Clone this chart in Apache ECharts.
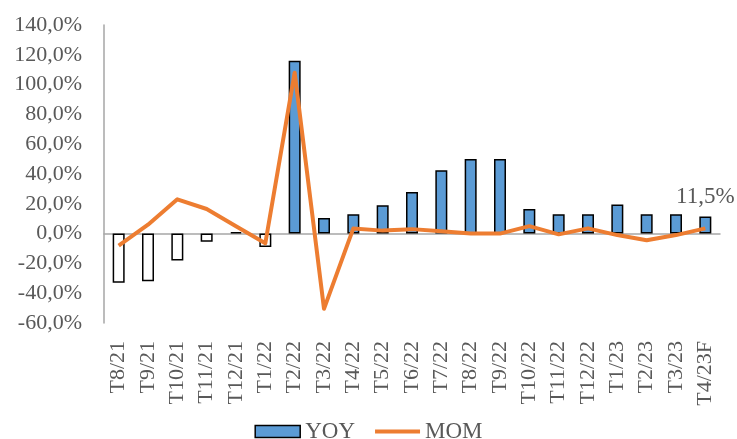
<!DOCTYPE html>
<html>
<head>
<meta charset="utf-8">
<script src="https://cdn.jsdelivr.net/npm/echarts@6/dist/echarts.min.js"></script>
<style>html,body{margin:0;padding:0;background:#fff}#c{width:737px;height:439px}</style>
</head>
<body>
<div id="c"></div>
<script>
var categories = ['T8/21','T9/21','T10/21','T11/21','T12/21','T1/22','T2/22','T3/22','T4/22','T5/22','T6/22','T7/22','T8/22','T9/22','T10/22','T11/22','T12/22','T1/23','T2/23','T3/23','T4/23F'];
var yoy = [-33, -32, -18, -5.5, 1, -9, 116, 10.5, 13, 19, 28, 42.5, 50, 50, 16.5, 13, 13, 19.5, 13, 13, 11.5];
var mom = [-8, 6, 23, 16.5, 5, -6.5, 108, -50.5, 3.5, 2, 3, 1.5, 0, 0, 5, -0.5, 3.5, -1, -4.5, -1, 3.5];
var yTicks = {min: -60, max: 140, interval: 20};

var FONT = 'Liberation Serif';
var GRAY = '#595959';
var BLUE = '#5B9BD5';
var ORANGE = '#ED7D31';
function pct(v){ return v.toFixed(1).replace('.', ',') + '%'; }

var barData = yoy.map(function(v, i){
  var item = {value: v, itemStyle: {color: v < 0 ? '#ffffff' : BLUE}};
  if (i === yoy.length - 1) {
    item.label = {show: true, position: 'top', distance: 8, formatter: function(p){ return pct(p.value); },
      color: GRAY, fontFamily: FONT, fontSize: 23};
  }
  return item;
});

var chart = echarts.init(document.getElementById('c'), null, {renderer: 'canvas'});
chart.setOption({
  animation: false,
  backgroundColor: '#ffffff',
  grid: {left: 104, right: 17, top: 25, bottom: 116},
  legend: {
    bottom: -9, left: 'center', itemWidth: 45, itemHeight: 12, itemGap: 20,
    textStyle: {fontFamily: FONT, fontSize: 23, color: GRAY},
    data: [
      {name: 'YOY', icon: 'rect', itemStyle: {borderColor: '#000', borderWidth: 1.5}},
      {name: 'MOM', icon: 'path://M0,0L45,0L45,4L0,4Z'}
    ]
  },
  xAxis: [{
    type: 'category', data: categories,
    axisLine: {show: false, onZero: false}, axisTick: {show: false},
    axisLabel: {rotate: 90, margin: 18, color: GRAY, fontFamily: FONT, fontSize: 22, interval: 0}
  }, {
    type: 'category', data: categories, position: 'bottom',
    axisLine: {show: true, onZero: true, lineStyle: {color: '#A6A6A6', width: 1.5}},
    axisTick: {show: false}, axisLabel: {show: false}
  }],
  yAxis: {
    type: 'value', min: yTicks.min, max: yTicks.max, interval: yTicks.interval,
    axisLine: {show: true, lineStyle: {color: '#A6A6A6', width: 1.5}},
    axisTick: {show: false}, splitLine: {show: false},
    axisLabel: {formatter: pct, color: GRAY, fontFamily: FONT, fontSize: 22, margin: 22}
  },
  series: [{
    name: 'YOY', type: 'bar', data: barData, barWidth: 12,
    itemStyle: {color: BLUE, borderColor: '#000', borderWidth: 1.5}
  }, {
    name: 'MOM', type: 'line', data: mom, symbol: 'none',
    lineStyle: {color: ORANGE, width: 4, join: 'round'}, itemStyle: {color: ORANGE}
  }]
});
</script>
</body>
</html>
